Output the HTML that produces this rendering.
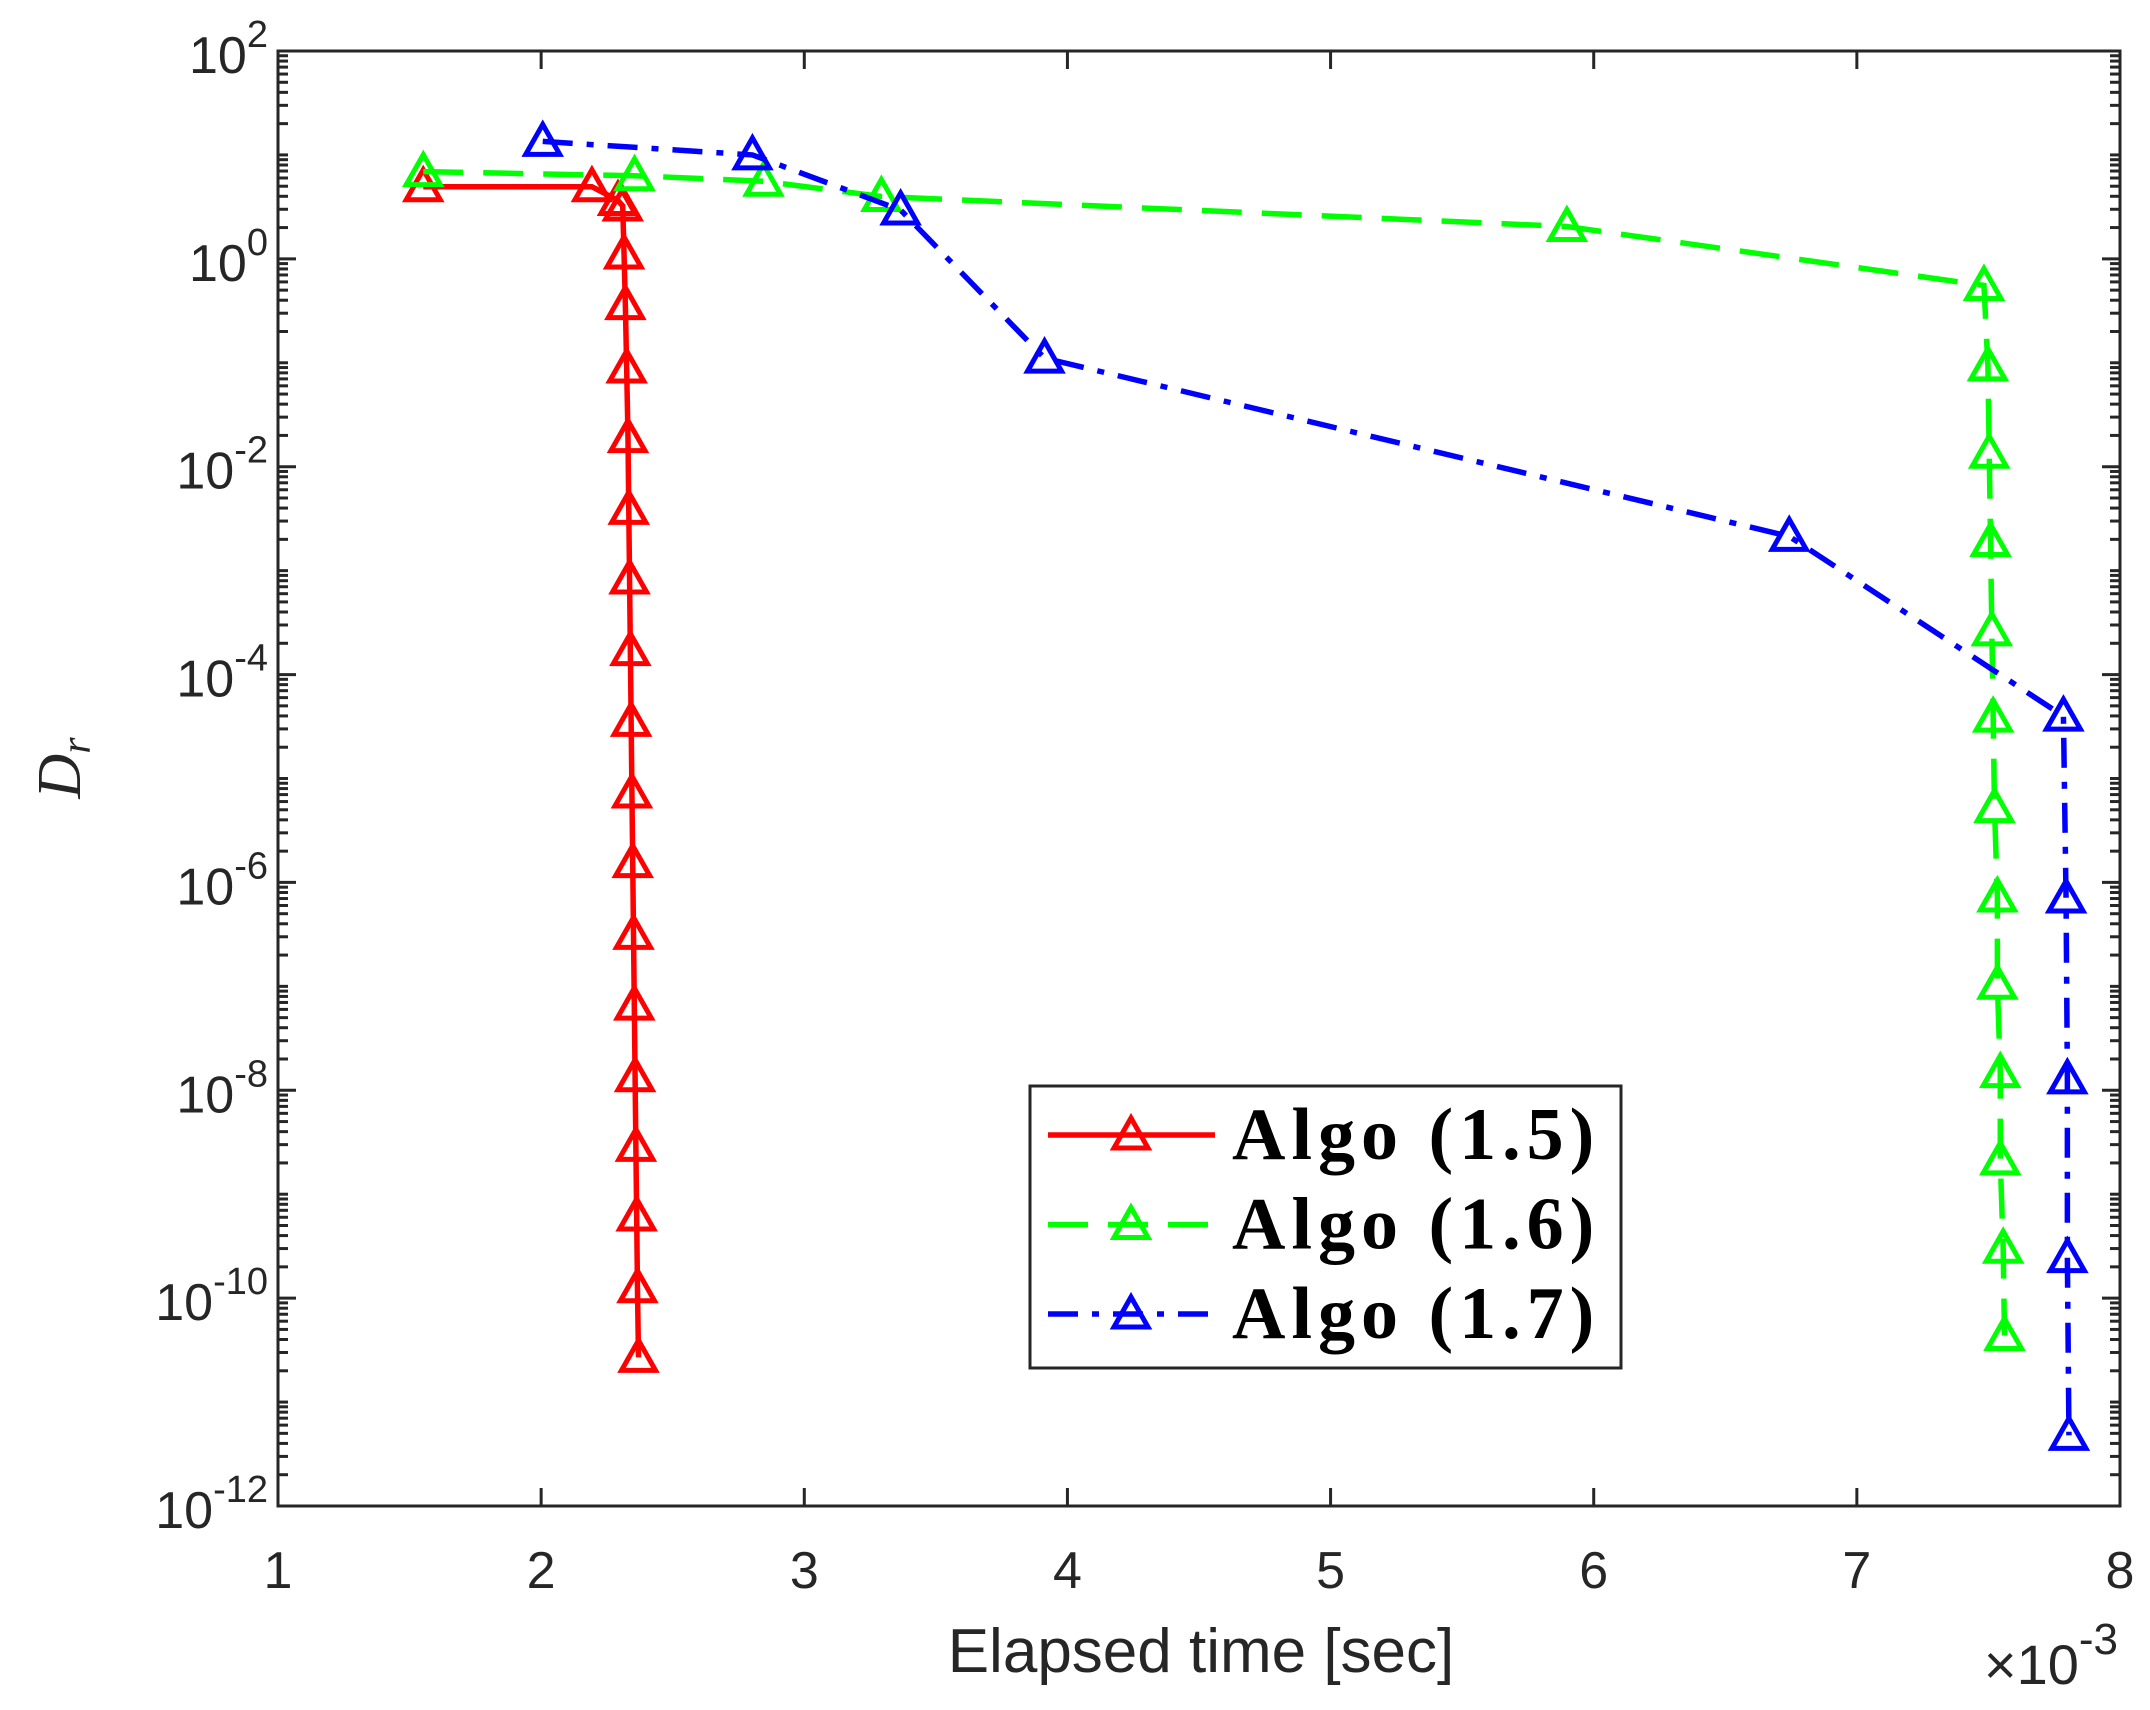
<!DOCTYPE html>
<html><head><meta charset="utf-8"><style>
html,body{margin:0;padding:0;background:#fff;}
svg{display:block;}
</style></head><body>
<svg id="chart" width="2150" height="1710" viewBox="0 0 2150 1710" xmlns="http://www.w3.org/2000/svg"></svg>
<script>
const xTicks=[1,2,3,4,5,6,7,8];
const yExps=[2,0,-2,-4,-6,-8,-10,-12];
const seriesNames=["Algo (1.5)","Algo (1.6)","Algo (1.7)"];
const redX=[1.552,2.193,2.292,2.31,2.315,2.32,2.325,2.33,2.333,2.336,2.339,2.342,2.345,2.348,2.351,2.354,2.357,2.36,2.363,2.366,2.37];
const redLogY=[0.694,0.694,0.562,0.509,0.047,-0.44,-1.05,-1.72,-2.41,-3.08,-3.77,-4.45,-5.14,-5.81,-6.50,-7.18,-7.87,-8.54,-9.21,-9.90,-10.57];
const greenX=[1.552,2.355,2.845,3.293,5.898,7.483,7.498,7.503,7.508,7.513,7.518,7.523,7.534,7.534,7.545,7.545,7.556,7.561];
const greenLogY=[0.839,0.80,0.747,0.60,0.311,-0.256,-1.03,-1.87,-2.72,-3.58,-4.41,-5.28,-6.14,-6.98,-7.83,-8.67,-9.52,-10.36];
const blueX=[2.006,2.803,3.366,3.913,6.743,7.785,7.795,7.80,7.80,7.806];
const blueLogY=[1.13,1.0,0.47,-0.955,-2.67,-4.40,-6.15,-7.89,-9.61,-11.32];

const L=278,R=2120,T=51,B=1506;
const xs=v=>L+(v-1)/7*(R-L);
const ys=lv=>T+(2-lv)/14*(B-T);
const NS="http://www.w3.org/2000/svg";
const svg=document.getElementById('chart');
function mk(tag,attrs,parent){const e=document.createElementNS(NS,tag);for(const k in attrs)e.setAttribute(k,attrs[k]);(parent||svg).appendChild(e);return e;}

const tg=mk('g',{stroke:'#262626','stroke-width':3});


xTicks.forEach(v=>{const x=xs(v);mk('line',{x1:x,y1:B,x2:x,y2:B-18},tg);mk('line',{x1:x,y1:T,x2:x,y2:T+18},tg);});
for(let e=-12;e<2;e++){for(let m=2;m<10;m++){const y=ys(e+Math.log10(m));mk('line',{x1:L,y1:y,x2:L+10,y2:y},tg);mk('line',{x1:R,y1:y,x2:R-10,y2:y},tg);}
  const y0=ys(e);mk('line',{x1:L,y1:y0,x2:L+(e%2===0?18:10),y2:y0},tg);mk('line',{x1:R,y1:y0,x2:R-(e%2===0?18:10),y2:y0},tg);}

xTicks.forEach(v=>{const t=mk('text',{x:xs(v),y:B+82,'text-anchor':'middle','font-family':'Liberation Sans, sans-serif','font-size':52,fill:'#262626'});t.textContent=v;

});
yExps.forEach(e=>{const t=mk('text',{x:L-10,y:ys(e)+22,'text-anchor':'end','font-family':'Liberation Sans, sans-serif','font-size':52,fill:'#262626'});


const a=mk('tspan',{},t);a.textContent='10';const b=mk('tspan',{dy:-26,'font-size':38},t);b.textContent=String(e);});

function series(xa,ya,color,dash,name){
  const g=mk('g',{});
  
  
  const n=Math.min(xa.length,ya.length);
  let d='';for(let i=0;i<n;i++)d+=(i?'L':'M')+xs(xa[i])+','+ys(ya[i]);
  mk('path',{d:d,fill:'none',stroke:color,'stroke-width':5.5,'stroke-dasharray':dash},g);
  for(let i=0;i<n;i++){const cx=xs(xa[i]),cy=ys(ya[i]);
    const m=mk('path',{d:`M${cx},${cy-17}L${cx+17},${cy+13}L${cx-17},${cy+13}Z`,fill:'none',stroke:color,'stroke-width':5},g);
    
    }
}
series(redX,redLogY,'#ff0000','none','series-algo-1-5');
series(greenX,greenLogY,'#00ff00','40,20','series-algo-1-6');
series(blueX,blueLogY,'#0000ff','30,14,7,14','series-algo-1-7');

const fr=mk('rect',{x:L,y:T,width:R-L,height:B-T,fill:'none',stroke:'#262626','stroke-width':3});



const xl=mk('text',{x:(L+R)/2+2,y:1672,'text-anchor':'middle','font-family':'Liberation Sans, sans-serif','font-size':62,fill:'#262626'});xl.textContent='Elapsed time [sec]';


const ex=mk('text',{x:2118,y:1684,'text-anchor':'end','font-family':'Liberation Sans, sans-serif','font-size':56,fill:'#262626'});


const e1=mk('tspan',{},ex);e1.textContent='×10';const e2=mk('tspan',{dy:-30,'font-size':44},ex);e2.textContent='-3';
const yl=mk('text',{x:0,y:0,transform:'translate(80,768) rotate(-90)','text-anchor':'middle','font-family':'Liberation Serif, serif','font-style':'italic','font-size':62,fill:'#262626'});


const y1=mk('tspan',{},yl);y1.textContent='D';const y2=mk('tspan',{dy:10,'font-size':42},yl);y2.textContent='r';

const lg=mk('g',{});


mk('rect',{x:1030,y:1086,width:591,height:282,fill:'#fff',stroke:'#262626','stroke-width':3},lg);
const cols=['#ff0000','#00ff00','#0000ff'],dashes=['none','40,20','30,14,7,14'];
seriesNames.forEach((nm,i)=>{const y=1135+i*89.5;
  const e=mk('g',{},lg);
  
  
  mk('line',{x1:1048,y1:y,x2:1215,y2:y,stroke:cols[i],'stroke-width':5.5,'stroke-dasharray':dashes[i]},e);
  mk('path',{d:`M1131,${y-17}L1148,${y+13}L1114,${y+13}Z`,fill:'none',stroke:cols[i],'stroke-width':5},e);
  const t=mk('text',{x:1232,y:y+24,'font-family':'Liberation Serif, serif','font-weight':'bold','font-size':74,'letter-spacing':6,fill:'#000'},e);t.textContent=nm;
});
</script>
</body></html>
